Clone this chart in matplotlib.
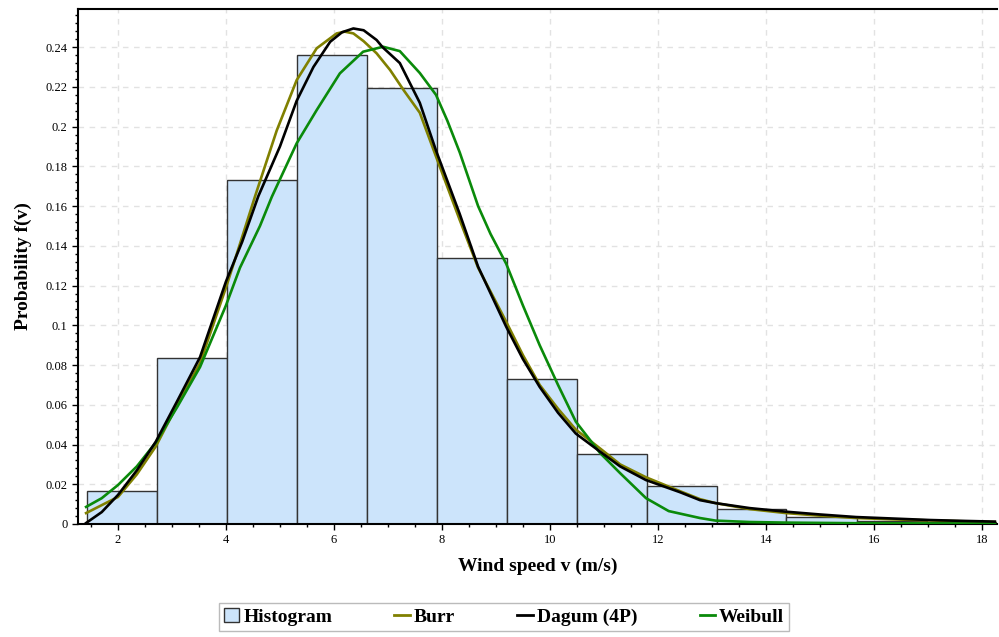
import matplotlib
matplotlib.use('Agg')
import matplotlib.pyplot as plt
from matplotlib.ticker import MultipleLocator, FuncFormatter
from matplotlib.patches import Patch
from matplotlib.lines import Line2D

# histogram of measured wind speed
bin_edges = [1.43, 2.72, 4.02, 5.31, 6.61, 7.91, 9.20, 10.50, 11.79, 13.09,
             14.38, 15.68, 16.98, 18.27]
bin_heights = [0.0168, 0.0835, 0.1731, 0.236, 0.2196, 0.1337, 0.0728, 0.0352,
               0.0191, 0.0075, 0.0035, 0.0015, 0.001]

# fitted pdfs
dagum_x = [1.41, 1.70, 2.00, 2.35, 2.70, 3.10, 3.52, 4.00, 4.30, 4.60, 5.00,
           5.31, 5.62, 5.93, 6.15, 6.36, 6.55, 6.79, 6.90, 7.22, 7.59, 7.89,
           8.33, 8.67, 9.19, 9.50, 9.81, 10.15, 10.48, 10.93, 11.30, 11.78,
           12.41, 12.78, 13.07, 13.70, 14.37, 15.00, 15.67, 16.40, 17.04,
           17.60, 18.24]
dagum_y = [0.0005, 0.006, 0.0146, 0.027, 0.0414, 0.062, 0.084, 0.122, 0.142,
           0.165, 0.190, 0.213, 0.230, 0.2427, 0.2475, 0.2494, 0.2485, 0.2436,
           0.240, 0.232, 0.212, 0.188, 0.156, 0.1295, 0.0993, 0.083, 0.069,
           0.056, 0.0455, 0.0364, 0.029, 0.0221, 0.016, 0.012, 0.0105, 0.008,
           0.0062, 0.0048, 0.0035, 0.0027, 0.002, 0.0016, 0.0012]

burr_x = [1.41, 1.70, 2.00, 2.35, 2.70, 3.10, 3.52, 4.00, 4.26, 4.54, 4.94,
          5.31, 5.68, 6.05, 6.20, 6.36, 6.55, 6.79, 7.04, 7.30, 7.59, 7.89,
          8.33, 8.67, 9.19, 9.50, 9.81, 10.15, 10.48, 10.93, 11.30, 11.78,
          12.41, 12.78, 13.07, 13.70, 14.37, 15.00, 15.67, 16.40, 17.04,
          17.60, 18.24]
burr_y = [0.0055, 0.0095, 0.0136, 0.025, 0.039, 0.060, 0.081, 0.119, 0.141,
          0.165, 0.198, 0.2234, 0.2394, 0.2469, 0.2478, 0.2469, 0.243, 0.2369,
          0.2285, 0.218, 0.207, 0.185, 0.153, 0.129, 0.1018, 0.085, 0.070,
          0.058, 0.0475, 0.038, 0.030, 0.0235, 0.0165, 0.0125, 0.0105, 0.0075,
          0.0055, 0.0042, 0.003, 0.0023, 0.0018, 0.0014, 0.001]

weibull_x = [1.41, 1.70, 2.00, 2.35, 2.70, 3.10, 3.52, 4.00, 4.26, 4.63, 4.85,
             5.31, 5.68, 6.11, 6.54, 6.91, 7.22, 7.59, 7.89, 8.10, 8.33, 8.67,
             8.90, 9.19, 9.50, 9.81, 10.15, 10.48, 10.93, 11.30, 11.78, 12.20,
             12.78, 13.07, 13.70, 14.37, 15.67, 17.04, 18.24]
weibull_y = [0.0086, 0.013, 0.0196, 0.029, 0.041, 0.059, 0.079, 0.110, 0.129,
             0.150, 0.1647, 0.1916, 0.2083, 0.2268, 0.2377, 0.2402, 0.238,
             0.227, 0.216, 0.203, 0.187, 0.160, 0.146, 0.131, 0.110, 0.090,
             0.070, 0.0515, 0.0357, 0.0256, 0.013, 0.0065, 0.003, 0.0017,
             0.001, 0.0007, 0.0004, 0.0003, 0.0002]

plt.rcParams['font.family'] = ['Liberation Serif', 'DejaVu Serif']

fig = plt.figure(figsize=(9.99, 6.37), dpi=100)
ax = fig.add_axes([78 / 999, 1 - 524 / 637, 919 / 999, 515 / 637])

widths = [bin_edges[i + 1] - bin_edges[i] for i in range(len(bin_heights))]
ax.bar(bin_edges[:-1], bin_heights, width=widths, align='edge',
       color='#cce4fb', edgecolor='#333333', linewidth=1.0, zorder=2)

ax.plot(burr_x, burr_y, color='#808000', lw=1.9, zorder=3)
ax.plot(dagum_x, dagum_y, color='black', lw=1.9, zorder=4)
ax.plot(weibull_x, weibull_y, color='#0a8a0a', lw=1.9, zorder=3)

ax.set_xlim(1.26, 18.28)
ax.set_ylim(0, 0.2592)
ax.xaxis.set_major_locator(MultipleLocator(2))
ax.xaxis.set_minor_locator(MultipleLocator(0.5))
ax.yaxis.set_major_locator(MultipleLocator(0.02))
ax.yaxis.set_minor_locator(MultipleLocator(0.004))
ax.yaxis.set_major_formatter(FuncFormatter(lambda v, p: '%g' % round(v, 3)))
ax.tick_params(which='both', direction='out', labelsize=9, width=1)
ax.tick_params(which='major', length=4)
ax.tick_params(which='minor', length=2)
ax.grid(True, which='major', linestyle=(0, (4, 4)), color='#e2e2e2', lw=1, zorder=0)
ax.set_axisbelow(True)
for s in ['left', 'bottom', 'top']:
    ax.spines[s].set_linewidth(1.5)
ax.spines['right'].set_visible(False)

ax.set_xlabel('Wind speed v (m/s)', fontsize=14, fontweight='bold', labelpad=8)
ax.set_ylabel('Probability f(v)', fontsize=14, fontweight='bold', labelpad=10)

handles = [Patch(facecolor='#cce4fb', edgecolor='#333333'),
           Line2D([], [], color='#808000', lw=2),
           Line2D([], [], color='black', lw=2),
           Line2D([], [], color='#0a8a0a', lw=2)]
labels = ['Histogram', 'Burr', 'Dagum (4P)', 'Weibull']
fig.legend(handles, labels, loc='center', bbox_to_anchor=(504 / 999, 1 - 617 / 637),
           ncol=4, frameon=True, fancybox=False, edgecolor='#aaaaaa',
           prop={'size': 14, 'weight': 'bold'}, handlelength=0.8,
           handletextpad=0.2, columnspacing=3.2, borderpad=0.25)

fig.savefig('out.png', dpi=100)
